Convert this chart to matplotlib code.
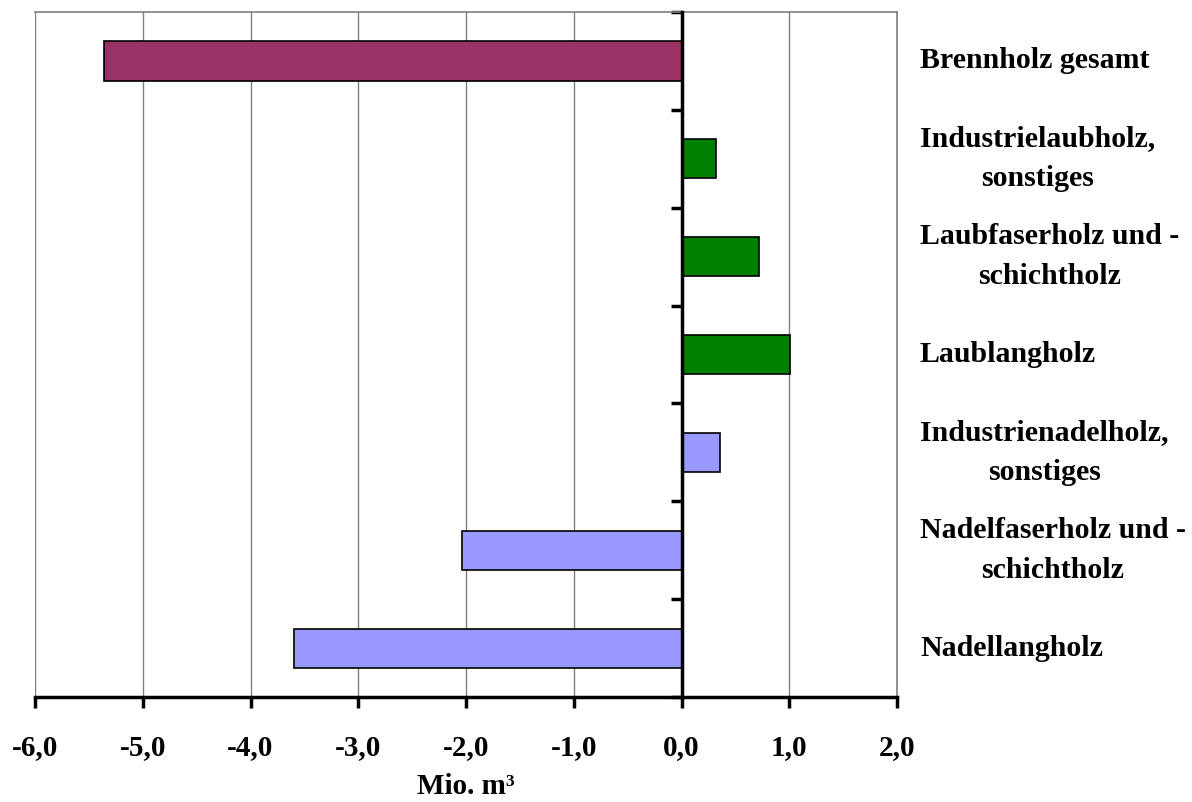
import matplotlib.pyplot as plt
import numpy as np

plt.rcParams['font.family'] = ['Liberation Serif', 'DejaVu Serif']
plt.rcParams['font.weight'] = 'bold'

categories = ['Nadellangholz', 'Nadelfaserholz und -\nschichtholz',
              'Industrienadelholz,\nsonstiges', 'Laublangholz',
              'Laubfaserholz und -\nschichtholz', 'Industrielaubholz,\nsonstiges',
              'Brennholz gesamt']
values = [-3.60, -2.04, 0.36, 1.01, 0.72, 0.32, -5.36]
colors = ['#9999FF', '#9999FF', '#9999FF', '#008000', '#008000', '#008000', '#993366']
xticks = [-6, -5, -4, -3, -2, -1, 0, 1, 2]
xticklabels = ['-6,0', '-5,0', '-4,0', '-3,0', '-2,0', '-1,0', '0,0', '1,0', '2,0']

fig = plt.figure(figsize=(11.92, 8.02), dpi=100)
ax = fig.add_axes([35/1192, 1-697/802, (897-35)/1192, (697-12)/802])

y = np.arange(len(categories))
ax.barh(y, values, height=0.4, color=colors, edgecolor='black', linewidth=1.2, zorder=3)

ax.set_xlim(-6, 2)
ax.set_ylim(-0.5, len(categories) - 0.5)

# gridlines
for t in xticks:
    ax.axvline(t, color='#808080', lw=1, zorder=1)

# spines
for s in ['top', 'right']:
    ax.spines[s].set_color('#808080')
    ax.spines[s].set_linewidth(1.2)
ax.spines['left'].set_position(('data', 0))
ax.spines['left'].set_color('black')
ax.spines['left'].set_linewidth(2.5)
ax.spines['left'].set_zorder(4)
ax.spines['bottom'].set_color('black')
ax.spines['bottom'].set_linewidth(2.5)

ax.set_yticks(np.arange(len(categories) + 1) - 0.5)
ax.set_yticklabels([])
ax.tick_params(axis='y', direction='out', length=8, width=2.5)

ax.set_xticks(xticks)
ax.set_xticklabels(xticklabels, fontsize=21, fontweight='bold')
ax.tick_params(axis='x', direction='out', length=8, width=2.5, pad=19)
ax.set_xlabel('Mio. m³', fontsize=21, fontweight='bold', labelpad=8)

lab_trans = ax.get_yaxis_transform().__class__(fig.transFigure, ax.transData)
for yi, lab in zip(y, categories):
    ax.text(920/1192, yi, lab, transform=lab_trans,
            ha='left', va='center', multialignment='center', fontsize=21.5, fontweight='bold',
            linespacing=1.6)

fig.savefig('out.png', dpi=100)
